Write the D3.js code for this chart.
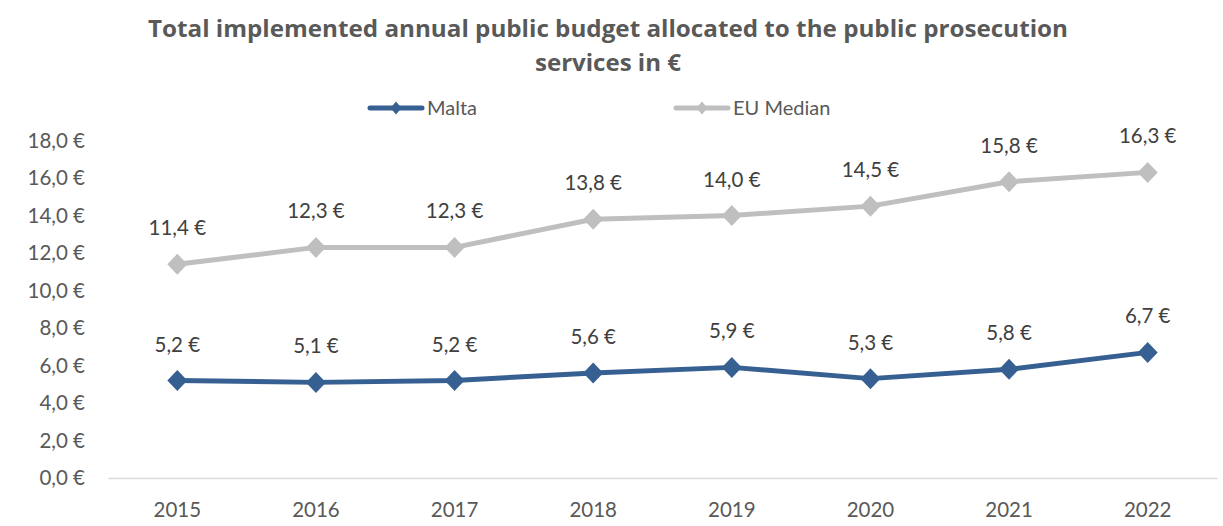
<!DOCTYPE html>
<html><head><meta charset="utf-8">
<script src="https://cdn.jsdelivr.net/npm/d3@7"></script>
<style>
html,body{margin:0;padding:0;background:#fff;}
svg{display:block;font-family:Lato,"Open Sans",sans-serif;}
</style></head>
<body>
<svg id="chart" width="1223" height="526"></svg>
<script>
const years = ["2015","2016","2017","2018","2019","2020","2021","2022"];
const malta = [5.2, 5.1, 5.2, 5.6, 5.9, 5.3, 5.8, 6.7];
const euMedian = [11.4, 12.3, 12.3, 13.8, 14.0, 14.5, 15.8, 16.3];
const yTicks = [0, 2, 4, 6, 8, 10, 12, 14, 16, 18];
const seriesNames = ["Malta", "EU Median"];
const titleLines = ["Total implemented annual public budget allocated to the public prosecution", "services in €"];

const colors = {"Malta": "#376092", "EU Median": "#bfbfbf"};
const svg = d3.select("#chart");
const fmt = v => d3.format(".1f")(v).replace(".", ",") + " €";
const FS = 20.5;

const x = d3.scaleBand().domain(years).range([108, 1217]).padding(0);
const y = d3.scaleLinear().domain([0, 18]).range([478, 140.5]);

// title
const tl = svg.append("g").attr("fill", "#595959").attr("font-weight", "bold")
  .attr("font-family", "'Open Sans',sans-serif").attr("text-anchor", "middle");
tl.append("text").attr("x", 608).attr("y", 37).attr("font-size", 23.5)
  .attr("textLength", 920).attr("lengthAdjust", "spacingAndGlyphs").text(titleLines[0]);
tl.append("text").attr("x", 608).attr("y", 71).attr("font-size", 23.5)
  .attr("textLength", 146).attr("lengthAdjust", "spacingAndGlyphs").text(titleLines[1]);

// y axis labels
const yAxis = d3.axisLeft(y).tickValues(yTicks).tickFormat(fmt).tickSize(0).tickPadding(0);
const yg = svg.append("g").attr("transform", "translate(85,0)").call(yAxis);
yg.select(".domain").remove();
yg.selectAll("text").attr("font-size", FS).attr("fill", "#595959").attr("font-family", "Lato,sans-serif");

// x axis
const xAxis = d3.axisBottom(x).tickSize(0).tickPadding(24);
const xg = svg.append("g").attr("transform", `translate(0,${y(0)})`).call(xAxis);
xg.select(".domain").attr("stroke", "#d9d9d9").attr("stroke-width", 1.5);
xg.selectAll("text").attr("font-size", FS).attr("fill", "#595959").attr("font-family", "Lato,sans-serif");

const cx = d => x(d) + x.bandwidth() / 2;
const line = d3.line().x((d, i) => cx(years[i])).y(d => y(d));
const dpath = "M0,-10.5L10,0L0,10.5L-10,0Z";

const data = [["Malta", malta], ["EU Median", euMedian]];
data.slice().reverse().forEach(([name, vals]) => {
  const g = svg.append("g");
  g.append("path").datum(vals).attr("d", line).attr("fill", "none")
    .attr("stroke", colors[name]).attr("stroke-width", 5).attr("stroke-linejoin", "round");
  g.selectAll("path.m").data(vals).join("path").attr("class", "m")
    .attr("d", dpath)
    .attr("transform", (d, i) => `translate(${cx(years[i])},${y(d)})`)
    .attr("fill", colors[name]);
  g.selectAll("text").data(vals).join("text")
    .attr("x", (d, i) => cx(years[i]))
    .attr("y", d => y(d) - 29)
    .attr("text-anchor", "middle").attr("font-size", FS).attr("fill", "#404040")
    .attr("font-family", "Lato,sans-serif")
    .text(fmt);
});

// legend
const legendPos = [{x0: 370, tx: 427}, {x0: 676, tx: 733}];
const lg = svg.append("g");
seriesNames.forEach((name, i) => {
  const p = legendPos[i];
  lg.append("line").attr("x1", p.x0).attr("x2", p.x0 + 52).attr("y1", 108).attr("y2", 108)
    .attr("stroke", colors[name]).attr("stroke-width", 5).attr("stroke-linecap", "round");
  lg.append("path").attr("d", "M0,-6.5L5.5,0L0,6.5L-5.5,0Z").attr("transform", `translate(${p.x0 + 26},108)`)
    .attr("fill", colors[name]);
  lg.append("text").attr("x", p.tx).attr("y", 115).attr("font-size", 20).attr("fill", "#595959")
    .attr("font-family", "Lato,sans-serif").text(name);
});
</script>
</body></html>
